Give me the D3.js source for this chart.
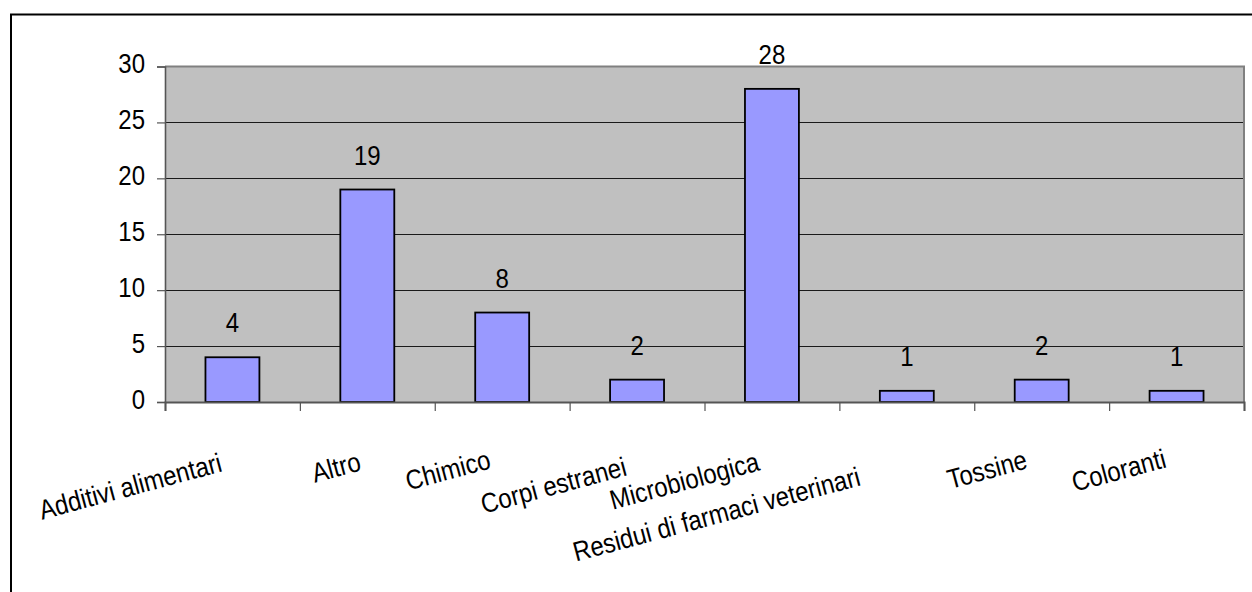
<!DOCTYPE html>
<html>
<head>
<meta charset="utf-8">
<script src="https://cdn.jsdelivr.net/npm/d3@7"></script>
<style>
  html, body { margin: 0; padding: 0; background: #fff; }
  svg { display: block; }
  text { font-family: "Liberation Sans", Arial, sans-serif; fill: #000; }
</style>
</head>
<body>
<svg id="chart" width="1252" height="592"></svg>
<script>
// Segnalazioni per categoria di rischio
const categories = [
  "Additivi alimentari", "Altro", "Chimico", "Corpi estranei",
  "Microbiologica", "Residui di farmaci veterinari", "Tossine", "Coloranti"
];
const counts = [4, 19, 8, 2, 28, 1, 2, 1];
const yTicks = [0, 5, 10, 15, 20, 25, 30];

// per-label nudge [dx, dy] so long labels don't collide
const labelNudge = [[0, 1], [4, 0], [-1, -2], [0, 5], [-2, 0], [-36, 15], [-4, -2], [0, -3]];

const W = 1252, H = 592;
const plot = { left: 165, right: 1244, top: 66.5, bottom: 402 };
const textStretch = "scale(1,1.14)";

const svg = d3.select("#chart");

// outer frame of the chart object
svg.append("rect")
  .attr("x", 11).attr("y", 14.5)
  .attr("width", W + 20).attr("height", H + 20)
  .attr("fill", "#fff").attr("stroke", "#000").attr("stroke-width", 2);

const x = d3.scaleBand()
  .domain(categories)
  .range([plot.left, plot.right])
  .paddingInner(0.6)
  .paddingOuter(0.3);

const slot = d3.scaleLinear().domain([0, categories.length]).range([plot.left, plot.right]);

const y = d3.scaleLinear().domain([0, 30]).range([plot.bottom, plot.top]);

// plot area
svg.append("rect")
  .attr("x", plot.left).attr("y", plot.top)
  .attr("width", plot.right - plot.left).attr("height", plot.bottom - plot.top)
  .attr("fill", "#C0C0C0");

// horizontal gridlines
svg.append("g")
  .selectAll("line")
  .data(yTicks.filter(d => d > 0 && d < 30))
  .join("line")
  .attr("x1", plot.left).attr("x2", plot.right)
  .attr("y1", d => Math.round(y(d)) + 0.5).attr("y2", d => Math.round(y(d)) + 0.5)
  .attr("stroke", "#1a1a1a").attr("stroke-width", 1);

// plot area border (top and right)
svg.append("path")
  .attr("d", `M${plot.left},${plot.top}H${plot.right}V${plot.bottom}`)
  .attr("fill", "none").attr("stroke", "#808080").attr("stroke-width", 2);

// bars
svg.append("g")
  .selectAll("rect")
  .data(counts)
  .join("rect")
  .attr("x", (d, i) => x(categories[i]))
  .attr("y", d => y(d))
  .attr("width", x.bandwidth())
  .attr("height", d => y(0) - y(d))
  .attr("fill", "#9999FF")
  .attr("stroke", "#000")
  .attr("stroke-width", 1.8);

// value labels
svg.append("g")
  .selectAll("text")
  .data(counts)
  .join("text")
  .attr("transform", (d, i) => `translate(${x(categories[i]) + x.bandwidth() / 2},${y(d) - 25}) ${textStretch}`)
  .attr("text-anchor", "middle")
  .attr("font-size", 24)
  .text(d => d);

// y axis
const yAxis = svg.append("g")
  .attr("transform", `translate(${plot.left},0)`)
  .call(d3.axisLeft(y).tickValues(yTicks).tickSize(8).tickPadding(12).tickFormat(d3.format("d")));
yAxis.select(".domain").attr("stroke", "#555").attr("stroke-width", 1.6);
yAxis.selectAll(".tick line").attr("stroke", "#555").attr("stroke-width", 1.2);
yAxis.selectAll(".tick text")
  .attr("font-size", 24)
  .attr("font-family", "Liberation Sans, Arial, sans-serif")
  .attr("fill", "#000")
  .attr("dy", "0.3em")
  .attr("transform", `translate(0,-2) ${textStretch}`);

// x axis with tick marks at category boundaries
const xAxis = svg.append("g")
  .attr("transform", `translate(0,${plot.bottom})`)
  .call(d3.axisBottom(slot).tickValues(d3.range(categories.length + 1)).tickSize(9).tickFormat(""));
xAxis.select(".domain").attr("stroke", "#555").attr("stroke-width", 2);
xAxis.selectAll(".tick line").attr("stroke", "#555").attr("stroke-width", 1.2);

// rotated category labels
svg.append("g")
  .selectAll("text")
  .data(categories)
  .join("text")
  .attr("transform", (d, i) => {
    const cx = x(d) + x.bandwidth() / 2 - 9 + labelNudge[i][0];
    const cy = 470 + labelNudge[i][1];
    return `translate(${cx},${cy}) rotate(-15) ${textStretch}`;
  })
  .attr("text-anchor", "end")
  .attr("font-size", 24)
  .text(d => d);
</script>
</body>
</html>
